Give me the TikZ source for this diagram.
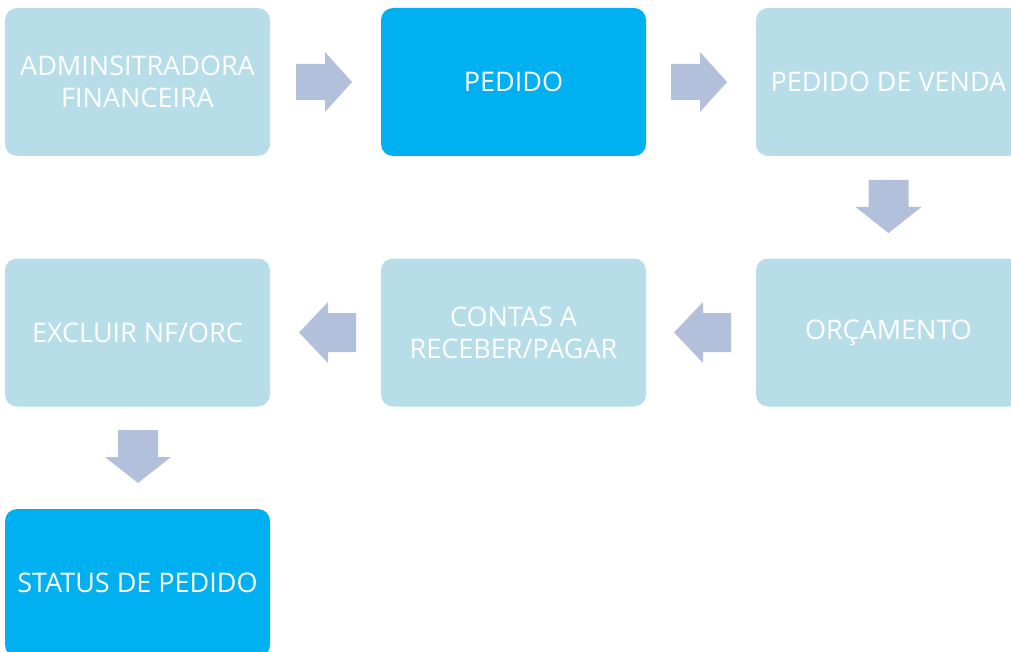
\documentclass[tikz,border=0pt]{standalone}
\usepackage{fontspec}
\setmainfont{Open Sans}
\definecolor{boxlight}{HTML}{B7DEE8}
\definecolor{boxbright}{HTML}{00B0F0}
\definecolor{arrowc}{HTML}{B3C0DC}
\begin{document}
\begin{tikzpicture}[x=1pt,y=-1pt,
  box/.style={fill=boxlight,draw=none,rounded corners=12pt,minimum width=265pt,minimum height=148pt,
    inner sep=0pt,align=center,text=white,font=\fontsize{27}{32}\selectfont},
  hot/.style={box,fill=boxbright},
  rarr/.pic={\fill[arrowc] (0,-18)--(29,-18)--(29,-30)--(56,0)--(29,30)--(29,18)--(0,18)--cycle;},
  larr/.pic={\fill[arrowc] (0,-19.5)--(-28,-19.5)--(-28,-30.5)--(-57,0)--(-28,30.5)--(-28,19.5)--(0,19.5)--cycle;},
  darr/.pic={\fill[arrowc] (-20,0)--(20,0)--(20,27)--(33,27)--(0,53)--(-33,27)--(-20,27)--cycle;}]
\useasboundingbox (0,0) rectangle (1011,652);
\clip (0,0) rectangle (1011,652);
\node[box] (adm) at (137.5,82) {ADMINSITRADORA\\FINANCEIRA};
\node[hot] (ped) at (513.5,82) {PEDIDO};
\node[box] (pv) at (888.5,82) {PEDIDO DE VENDA};
\node[box] (orc) at (888.5,332.5) {ORÇAMENTO};
\node[box] (cr) at (513.5,332.5) {CONTAS A\\RECEBER/PAGAR};
\node[box] (exc) at (137.5,332.5) {EXCLUIR NF/ORC};
\node[hot] (st) at (137.5,583) {STATUS DE PEDIDO};
\pic at (296,82) {rarr};
\pic at (671,82) {rarr};
\pic at (888.5,180) {darr};
\pic at (731,332.5) {larr};
\pic at (356,332.5) {larr};
\pic at (138,430) {darr};
\end{tikzpicture}
\end{document}
